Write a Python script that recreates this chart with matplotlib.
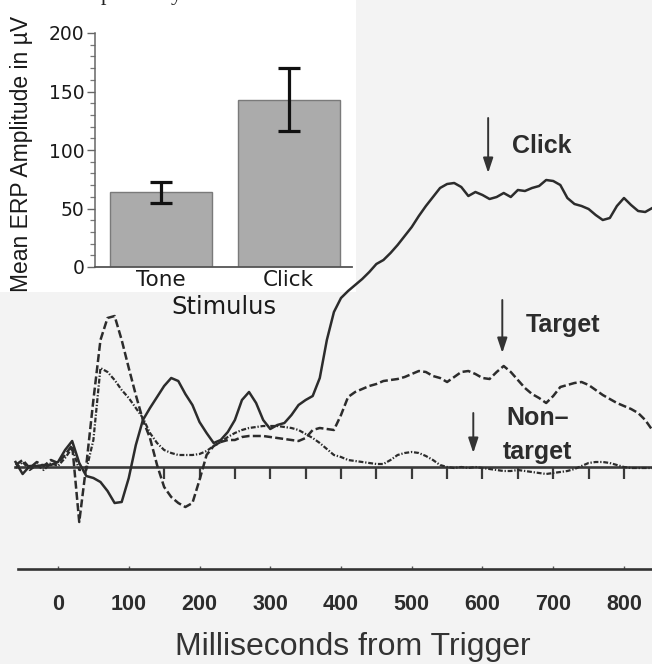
import matplotlib
matplotlib.use("Agg")
import matplotlib.pyplot as plt
from matplotlib.patches import Rectangle
from matplotlib.ticker import MultipleLocator

# ---------------- data ----------------
# ERP traces (arbitrary amplitude units), sampled every 10 ms from -60 to 840 ms
time_ms = list(range(-60, 850, 10))

click_amp = [
    0.5, -0.7, 0.1, 0.1, 0.2, 0.2, 0.5, 1.7, 2.6, 0.4,
    -0.9, -1.1, -1.5, -2.4, -3.6, -3.5, -1.1, 2.2, 4.7, 5.9,
    7.0, 8.1, 8.9, 8.6, 7.3, 6.2, 4.5, 3.4, 2.4, 2.7,
    3.5, 4.7, 6.7, 7.5, 6.4, 4.7, 3.8, 4.2, 4.4, 5.2,
    6.2, 6.7, 7.1, 8.9, 12.7, 15.5, 16.9, 17.6, 18.2, 18.8,
    19.5, 20.3, 20.7, 21.4, 22.2, 23.1, 24.0, 25.1, 26.1, 27.0,
    27.9, 28.3, 28.4, 28.0, 27.1, 27.5, 27.2, 26.8, 27.0, 27.4,
    27.0, 27.7, 27.6, 27.9, 28.1, 28.7, 28.6, 28.2, 26.9, 26.3,
    26.1, 25.8, 25.2, 24.7, 24.9, 26.1, 26.9, 26.2, 25.6, 25.5,
    25.9,
]

target_amp = [
    0.2, 0.7, -0.1, 0.5, 0.1, 0.7, 0.4, 1.2, 2.2, -5.5,
    0.2, 6.7, 12.7, 14.9, 15.1, 12.7, 9.9, 7.2, 4.7, 2.9,
    0.2, -2.0, -3.0, -3.6, -4.0, -3.6, -1.3, 1.2, 2.1, 2.5,
    2.7, 2.7, 3.0, 3.1, 3.1, 3.1, 3.0, 2.9, 2.8, 2.7,
    2.6, 2.9, 3.7, 3.9, 3.8, 3.7, 5.2, 7.0, 7.5, 7.8,
    8.1, 8.3, 8.6, 8.7, 8.8, 9.0, 9.3, 9.6, 9.5, 9.1,
    8.9, 8.5, 9.0, 9.5, 9.6, 9.3, 8.9, 8.8, 9.5, 10.1,
    9.5, 8.7, 7.9, 7.3, 6.9, 6.4, 7.1, 8.0, 8.2, 8.4,
    8.5, 8.2, 7.7, 7.2, 6.8, 6.4, 6.1, 5.8, 5.4, 4.7,
    3.7,
]

nontarget_amp = [
    -0.1, 0.5, -0.3, 0.2, -0.3, 0.4, 0.1, 0.9, 1.9, -0.3,
    -0.3, 2.7, 9.9, 9.5, 8.7, 7.7, 6.9, 5.9, 4.9, 3.4,
    2.4, 1.7, 1.4, 1.2, 1.2, 1.2, 1.3, 1.6, 2.1, 2.5,
    3.0, 3.4, 3.7, 3.9, 4.0, 4.1, 4.1, 4.1, 4.0, 3.9,
    3.7, 3.3, 2.9, 2.4, 1.8, 1.2, 1.0, 0.7, 0.6, 0.5,
    0.4, 0.3, 0.3, 0.7, 1.2, 1.4, 1.5, 1.4, 1.1, 0.7,
    0.2, 0.0, -0.1, 0.0, -0.1, 0.0, -0.1, -0.2, -0.3, -0.4,
    -0.4, -0.3, -0.4, -0.5, -0.6, -0.7, -0.6, -0.5, -0.4, -0.2,
    0.1, 0.4, 0.5, 0.5, 0.4, 0.2, 0.0, -0.1, -0.1, -0.1,
    -0.1,
]

axis_ticks_ms = [0, 100, 200, 300, 400, 500, 600, 700, 800]
axis_ticklabels = ["0", "100", "200", "300", "400", "500", "600", "700", "800"]
baseline_ticks_ms = [150, 200, 250, 300, 350, 400, 450, 500, 550, 600, 650, 700, 750, 800]

# inset bar chart
stimuli = ["Tone", "Click"]
mean_amp_uv = [64, 143]
sem_uv = [9, 27]

# ---------------- figure ----------------
W, H = 652, 664
fig = plt.figure(figsize=(W / 100, H / 100), dpi=100, facecolor="#f3f3f3")

# white pasted panel behind the inset
fig.patches.append(Rectangle((0, 1 - 292 / H), 356 / W, 292 / H,
                             transform=fig.transFigure, facecolor="white",
                             edgecolor="none", zorder=-5))

# cut-off line of text at the very top (only descenders visible)
fig.text(101 / W, 1.0, "p", family="Liberation Serif", fontsize=16,
         va="baseline", ha="left", color="#222")
fig.text(171 / W, 1.0, "y", family="Liberation Serif", fontsize=16,
         va="baseline", ha="left", color="#222")

ink = "#2c2c2c"

# ---------------- main ERP plot ----------------
ax = fig.add_axes([0, 0, 1, 1])
ax.set_facecolor("none")
ax.set_xlim(-82, 839.6)
ax.set_ylim(-19.7, 46.7)
for s in ["top", "right", "left"]:
    ax.spines[s].set_visible(False)
ax.spines["bottom"].set_position(("data", 0))
ax.spines["bottom"].set_bounds(-61, 840)
ax.spines["bottom"].set_linewidth(1.9)
ax.spines["bottom"].set_color("#3a3a3a")
ax.set_xticks(baseline_ticks_ms)
ax.tick_params(axis="x", direction="out", length=8.5, width=1.6,
               color="#3a3a3a", labelbottom=False)
ax.set_yticks([])

ax.plot(time_ms, click_amp, color=ink, lw=1.8, solid_joinstyle="round", zorder=4)
ax.plot(time_ms, target_amp, color=ink, lw=1.8, linestyle=(0, (3.2, 1.3)), zorder=4)
ax.plot(time_ms, nontarget_amp, color=ink, lw=1.6,
        linestyle=(0, (2.2, 0.8, 0.6, 0.8)), zorder=4)

arrow_kw = dict(arrowstyle="-|>,head_length=0.9,head_width=0.3", color="#333333",
                lw=1.4, shrinkA=0, shrinkB=0)
ax.annotate("", xy=(608, 29.4), xytext=(608, 34.9), arrowprops=arrow_kw)
ax.annotate("", xy=(628, 11.4), xytext=(628, 16.7), arrowprops=arrow_kw)
ax.annotate("", xy=(587, 1.4), xytext=(587, 5.4), arrowprops=arrow_kw)

lab_kw = dict(fontsize=18, fontweight="bold", color=ink, family="Liberation Sans",
              ha="center", va="baseline")
ax.text(684, 31.4, "Click", **lab_kw)
ax.text(714, 13.5, "Target", **lab_kw)
ax.text(678, 4.2, "Non\u2013", **lab_kw)
ax.text(677, 0.8, "target", **lab_kw)

# lower time axis
ax2 = fig.add_axes([0, 1 - 569 / H, 1, 10 / H])
ax2.set_facecolor("none")
ax2.set_xlim(-82, 839.6)
for s in ["top", "right", "left"]:
    ax2.spines[s].set_visible(False)
ax2.spines["bottom"].set_bounds(-57, 840)
ax2.spines["bottom"].set_linewidth(1.9)
ax2.spines["bottom"].set_color("#333333")
ax2.set_yticks([])
ax2.set_xticks(axis_ticks_ms)
ax2.set_xticklabels(axis_ticklabels, family="Liberation Sans", fontweight="bold",
                    fontsize=15.5, color=ink)
ax2.tick_params(axis="x", direction="in", length=2.5, width=1.0, color="#555",
                pad=18)
ax2.set_xlabel("Milliseconds from Trigger", family="Liberation Sans", fontsize=23,
               color="#333333")
ax2.xaxis.set_label_coords(353 / W, 1 - 632 / H, transform=fig.transFigure)
ax2.xaxis.label.set_va("top")

# ---------------- inset bar chart ----------------
axi = fig.add_axes([95 / W, 1 - 267 / H, 257 / W, 234 / H])
axi.set_facecolor("none")
axi.set_zorder(3)
pos = list(range(len(stimuli)))
axi.bar(pos, mean_amp_uv, width=0.8, color="#ababab", edgecolor="#7a7a7a",
        linewidth=1.0, zorder=2)
axi.errorbar(pos, mean_amp_uv, yerr=sem_uv, fmt="none", ecolor="#111111",
             elinewidth=2.3, capsize=8, capthick=2.3, zorder=3)
axi.set_xlim(-0.518, 1.498)
axi.set_ylim(0, 200)
axi.spines["top"].set_visible(False)
axi.spines["right"].set_visible(False)
axi.spines["left"].set_color("#666666")
axi.spines["left"].set_linewidth(1.1)
axi.spines["bottom"].set_color("#555555")
axi.spines["bottom"].set_linewidth(1.3)
axi.set_yticks([0, 50, 100, 150, 200])
axi.yaxis.set_minor_locator(MultipleLocator(10))
axi.tick_params(axis="y", which="major", direction="out", length=6, width=1.0,
                color="#666666", pad=1.5, labelsize=13.5, labelcolor="#1a1a1a")
axi.tick_params(axis="y", which="minor", direction="out", length=3.5, width=0.9,
                color="#777777")
for lbl in axi.get_yticklabels():
    lbl.set_family("DejaVu Sans")
axi.set_xticks(pos)
axi.set_xticklabels(stimuli, family="DejaVu Sans", fontsize=15.5, color="#1a1a1a")
axi.tick_params(axis="x", length=0, pad=2)
axi.set_xlabel("Stimulus", family="DejaVu Sans", fontsize=17.5, color="#1a1a1a")
axi.xaxis.set_label_coords(0.5, (267 - 295) / 234)
axi.xaxis.label.set_va("top")
axi.set_ylabel("Mean ERP Amplitude in \u00b5V", family="Liberation Sans",
               fontsize=16.5, color="#1a1a1a")
axi.yaxis.set_label_coords((33 - 95) / 257, (267 - 153.5) / 234)

fig.savefig("out.png", dpi=100, facecolor=fig.get_facecolor())
